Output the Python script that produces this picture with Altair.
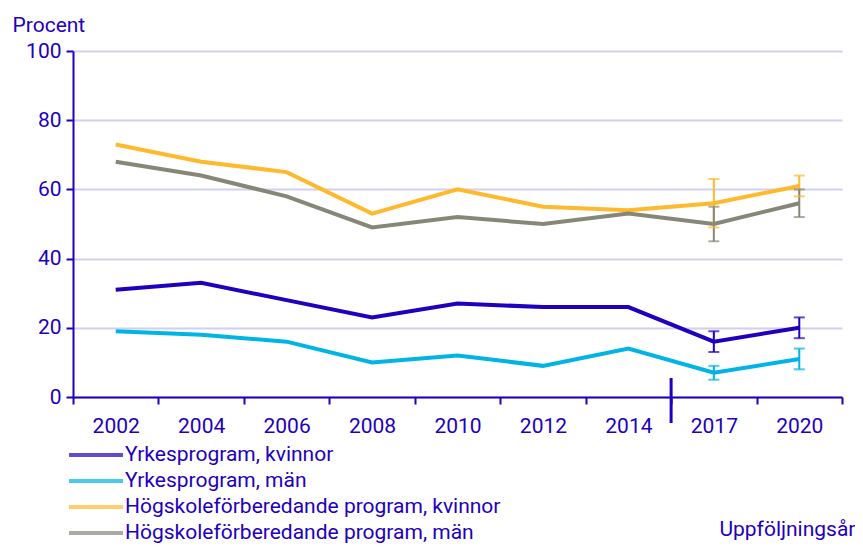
import altair as alt
import pandas as pd

years = ["2002", "2004", "2006", "2008", "2010", "2012", "2014", "2017", "2020"]
series_names = [
    "Yrkesprogram, kvinnor",
    "Yrkesprogram, män",
    "Högskoleförberedande program, kvinnor",
    "Högskoleförberedande program, män",
]
yrkes_kvinnor = [31, 33, 28, 23, 27, 26, 26, 16, 20]
yrkes_man = [19, 18, 16, 10, 12, 9, 14, 7, 11]
hogsk_kvinnor = [73, 68, 65, 53, 60, 55, 54, 56, 61]
hogsk_man = [68, 64, 58, 49, 52, 50, 53, 50, 56]

err_years = ["2017", "2020"]
yk_lo, yk_hi = [13, 17], [19, 23]
ym_lo, ym_hi = [5, 8], [9, 14]
hk_lo, hk_hi = [49, 58], [63, 64]
hm_lo, hm_hi = [45, 52], [55, 60]

break_year = ["2017"]

colors = ["#1E00BE", "#00B4E6", "#FFB92D", "#878778"]
TXT = "#1E00BE"
FS = 21

rows = []
for name, vals in zip(series_names, [yrkes_kvinnor, yrkes_man, hogsk_kvinnor, hogsk_man]):
    for y, v in zip(years, vals):
        rows.append({"year": y, "series": name, "value": v})
df = pd.DataFrame(rows)

erows = []
for name, lo, hi in zip(series_names, [yk_lo, ym_lo, hk_lo, hm_lo], [yk_hi, ym_hi, hk_hi, hm_hi]):
    for y, l, h in zip(err_years, lo, hi):
        erows.append({"year": y, "series": name, "lo": l, "hi": h})
edf = pd.DataFrame(erows)

bdf = pd.DataFrame({"year": break_year})

xscale = alt.Scale(type="band", domain=years, paddingInner=0, paddingOuter=0)
yscale = alt.Scale(domain=[0, 100], nice=False)

legend = alt.Legend(
    orient="none", legendX=10, legendY=391, title=None,
    symbolType="M-2.5,0H2.5", symbolSize=467, symbolStrokeWidth=4, symbolFillColor="transparent",
    labelFontSize=FS, labelColor=TXT, labelFont="Roboto", labelOffset=16,
    rowPadding=3, direction="vertical", labelLimit=600,
)
color_enc = alt.Color("series:N", scale=alt.Scale(domain=series_names, range=colors), legend=legend)

x_axis = alt.Axis(
    tickBand="extent", domainColor=TXT, domainWidth=2, tickColor=TXT, tickWidth=2, tickSize=7,
    labelFontSize=FS, labelColor=TXT, labelPadding=11, labelAngle=0, grid=False,
    title="Uppföljningsår", titleFontSize=FS, titleFontWeight="normal", titleColor=TXT,
    titleAnchor="end", titleAlign="right", titleBaseline="alphabetic", titleX=782, titleY=138,
)
major = "datum.value % 20 === 0"
y_axis = alt.Axis(
    values=list(range(0, 101, 10)),
    labelExpr="datum.value % 20 === 0 ? datum.label : ''",
    domainColor=TXT, domainWidth=2, tickColor=TXT, tickWidth=2, tickSize=7,
    tickOpacity={"condition": {"test": major, "value": 1}, "value": 0},
    gridColor={"condition": {"test": major, "value": "#D0D0F0"}, "value": "#EFEFEF"},
    gridWidth=2,
    labelFontSize=FS, labelColor=TXT, labelPadding=5,
    title="Procent", titleFontSize=FS, titleFontWeight="normal", titleColor=TXT,
    titleAngle=0, titleAlign="left", titleBaseline="alphabetic", titleX=-61, titleY=-20,
)

lines = alt.Chart(df).mark_line(strokeWidth=4).encode(
    x=alt.X("year:N", scale=xscale, bandPosition=0.5, axis=x_axis, sort=years),
    y=alt.Y("value:Q", scale=yscale, axis=y_axis),
    color=color_enc,
    order=alt.Order("year:N"),
)

rules = alt.Chart(edf).mark_rule(strokeWidth=2).encode(
    x=alt.X("year:N", scale=xscale, bandPosition=0.5, sort=years),
    y=alt.Y("lo:Q", scale=yscale),
    y2="hi:Q",
    color=color_enc,
)
caps_lo = alt.Chart(edf).mark_tick(orient="horizontal", size=11, thickness=2).encode(
    x=alt.X("year:N", scale=xscale, bandPosition=0.5, sort=years),
    y=alt.Y("lo:Q", scale=yscale),
    color=color_enc,
)
caps_hi = alt.Chart(edf).mark_tick(orient="horizontal", size=11, thickness=2).encode(
    x=alt.X("year:N", scale=xscale, bandPosition=0.5, sort=years),
    y=alt.Y("hi:Q", scale=yscale),
    color=color_enc,
)

brk = alt.Chart(bdf).mark_rule(strokeWidth=3, color=TXT).encode(
    x=alt.X("year:N", scale=xscale, bandPosition=0, sort=years),
    y=alt.value(327),
    y2=alt.value(372),
)

chart = alt.layer(lines, rules, caps_lo, caps_hi, brk).properties(
    width=769, height=346,
    autosize=alt.AutoSizeParams(type="none"),
    padding={"left": 65, "top": 43, "right": 13, "bottom": 147},
).configure(font="Roboto").configure_view(stroke=None)

chart.save("out.html", embed_options={"renderer": "svg", "actions": False})
